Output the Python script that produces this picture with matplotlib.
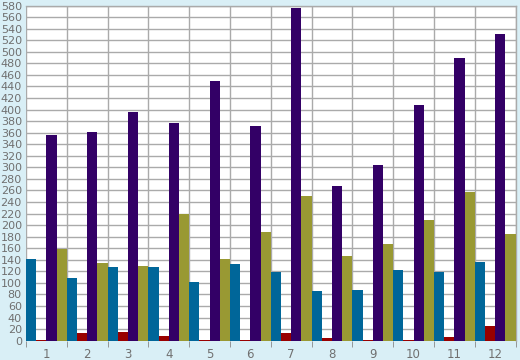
import numpy as np
import matplotlib.pyplot as plt

# values
months = [str(i) for i in range(1, 13)]
blue = [141, 108, 127, 127, 101, 133, 119, 86, 88, 122, 119, 136]
red = [1, 13, 15, 8, 1, 1, 13, 5, 1, 1, 6, 25]
purple = [356, 361, 396, 377, 450, 372, 576, 268, 304, 408, 490, 531]
olive = [158, 134, 129, 219, 141, 188, 251, 147, 167, 209, 257, 185]

series = [blue, red, purple, olive]
colors = ['#006699', '#990000', '#330066', '#999933']

bg = '#d9eff6'
fig = plt.figure(figsize=(5.2, 3.6), dpi=100, facecolor=bg)
ax = fig.add_axes([26/520, 19.3/360, 489.5/520, 335.2/360])
ax.set_facecolor('white')

x = np.arange(1, 13)
w = 0.25
for i, (vals, c) in enumerate(zip(series, colors)):
    ax.bar(x + (i - 1.5) * w, vals, width=w, color=c, linewidth=0, zorder=3)

ax.set_xlim(0.5, 12.5)
ax.set_ylim(0, 580)
ax.set_yticks(np.arange(0, 581, 20))
ax.set_xticks(x)
ax.set_xticklabels(months)
ax.set_xticks(np.arange(0.5, 12.6, 1), minor=True)

ax.grid(True, which='major', axis='y', color='#aaaaaa', linewidth=1, zorder=0)
ax.grid(True, which='minor', axis='x', color='#aaaaaa', linewidth=1, zorder=0)

ax.tick_params(axis='y', length=0, pad=3, labelsize=8, labelcolor='#707070')
ax.tick_params(axis='x', which='major', length=0, pad=5, labelsize=8.5, labelcolor='#707070')
ax.tick_params(axis='x', which='minor', length=4, color='#888888', direction='out')

for s in ax.spines.values():
    s.set_color('#aaaaaa')
    s.set_linewidth(1)
ax.spines['bottom'].set_visible(False)
ax.spines['left'].set_visible(False)

fig.savefig('out.png', dpi=100, facecolor=bg)
